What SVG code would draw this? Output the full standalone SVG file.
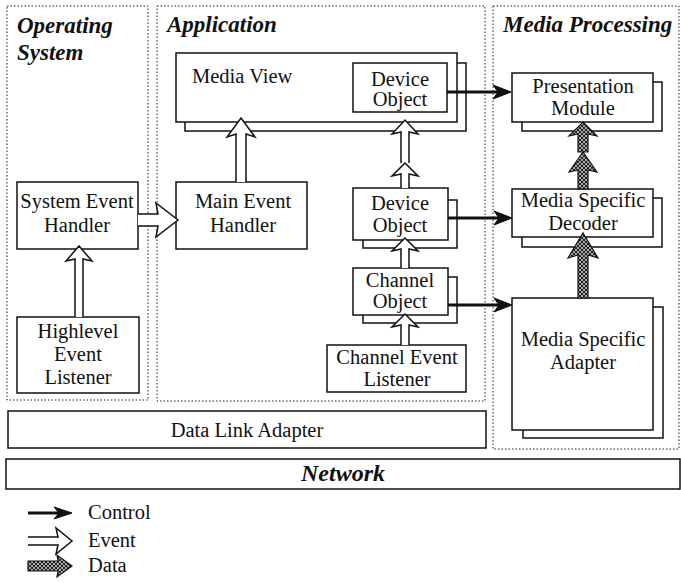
<svg xmlns="http://www.w3.org/2000/svg" width="681" height="583" viewBox="0 0 681 583" font-family="Liberation Serif, DejaVu Serif, serif">
<style>
.panel{fill:none;stroke:#222;stroke-width:1;stroke-dasharray:1.5 2}
.box{fill:#fff;stroke:#111;stroke-width:1.5}
.t{font-size:20.5px;fill:#111;text-anchor:middle}
.tl{font-size:20.5px;fill:#111}
.h{font-size:23px;font-weight:bold;font-style:italic;fill:#111}
.ctl{stroke:#111;stroke-width:3;fill:none}
.head{fill:#111;stroke:#111;stroke-width:1}
.ev{fill:#fff;stroke:#111;stroke-width:1.5;stroke-linejoin:miter}
.data{fill:url(#hatch);stroke:#111;stroke-width:1.2}
</style>
<defs>
<pattern id="hatch" width="4" height="4" patternUnits="userSpaceOnUse">
<rect width="4" height="4" fill="#aaa"/>
<path d="M0,0 L4,4 M4,0 L0,4" stroke="#222" stroke-width="1"/>
</pattern>
</defs>
<rect width="681" height="583" fill="#fff"/>

<g id="panels">
<g id="panel-os"><rect class="panel" x="7" y="6" width="141" height="394"/>
<text class="h" x="17" y="33" font-family="Liberation Serif">Operating</text><text class="h" x="17" y="60" font-family="Liberation Serif">System</text></g>
<g id="panel-app"><rect class="panel" x="157" y="6" width="328" height="395"/>
<text class="h" x="167" y="32" font-family="Liberation Serif">Application</text></g>
<g id="panel-media"><rect class="panel" x="493" y="6" width="186" height="443"/>
<text class="h" x="503" y="32" font-family="Liberation Serif">Media Processing</text></g>
</g>

<g id="nodes" font-family="Liberation Serif, DejaVu Serif, serif">
<g id="media-view"><rect class="box" x="185" y="63" width="281" height="68"/><rect class="box" x="176" y="53" width="281" height="69"/>
<text class="tl" x="192" y="83">Media View</text></g>
<g id="device-object-view"><rect class="box" x="353" y="63" width="94" height="49"/>
<text class="t" x="400" y="86">Device</text><text class="t" x="400" y="106">Object</text></g>
<g id="presentation-module"><rect class="box" x="522" y="82" width="140" height="49"/><rect class="box" x="512" y="73" width="141" height="49"/>
<text class="t" x="583" y="93">Presentation</text><text class="t" x="583" y="115">Module</text></g>
<g id="media-specific-decoder"><rect class="box" x="522" y="198" width="140" height="49"/><rect class="box" x="512" y="189" width="141" height="48"/>
<text class="t" x="583" y="207">Media Specific</text><text class="t" x="583" y="230">Decoder</text></g>
<g id="media-specific-adapter"><rect class="box" x="523" y="307" width="140" height="131"/><rect class="box" x="512" y="298" width="141" height="132"/>
<text class="t" x="583" y="346">Media Specific</text><text class="t" x="583" y="369">Adapter</text></g>
<g id="device-object"><rect class="box" x="363" y="200" width="94" height="48"/><rect class="box" x="353" y="188" width="95" height="52"/>
<text class="t" x="400" y="210">Device</text><text class="t" x="400" y="232">Object</text></g>
<g id="channel-object"><rect class="box" x="363" y="277" width="94" height="46"/><rect class="box" x="353" y="268" width="95" height="47"/>
<text class="t" x="400" y="287">Channel</text><text class="t" x="400" y="308">Object</text></g>
<g id="channel-event-listener"><rect class="box" x="327" y="345" width="139" height="47"/>
<text class="t" x="397" y="364">Channel Event</text><text class="t" x="397" y="386">Listener</text></g>
<g id="main-event-handler"><rect class="box" x="176" y="182" width="131" height="67"/>
<text class="t" x="243" y="208">Main Event</text><text class="t" x="243" y="232">Handler</text></g>
<g id="system-event-handler"><rect class="box" x="17" y="182" width="121" height="67"/>
<text class="t" x="77" y="208">System Event</text><text class="t" x="77" y="232">Handler</text></g>
<g id="highlevel-event-listener"><rect class="box" x="17" y="317" width="122" height="76"/>
<text class="t" x="78" y="338">Highlevel</text><text class="t" x="78" y="361">Event</text><text class="t" x="78" y="384">Listener</text></g>
<g id="data-link-adapter"><rect class="box" x="8" y="411" width="478" height="37"/>
<text class="t" x="247" y="437">Data Link Adapter</text></g>
<g id="network"><rect class="box" x="6" y="459" width="674" height="30"/>
<text class="h" x="343" y="481" text-anchor="middle" style="font-size:24px">Network</text></g>
</g>

<g id="connectors">
<line class="ctl" x1="447" y1="92" x2="498" y2="92"/><path class="head" d="M511,92 L493,85 L498,92 L493,99 Z"/>
<line class="ctl" x1="448" y1="218" x2="499" y2="218"/><path class="head" d="M512,218 L494,211 L499,218 L494,225 Z"/>
<line class="ctl" x1="448" y1="305" x2="499" y2="305"/><path class="head" d="M512,305 L494,298 L499,305 L494,312 Z"/>
<path class="ev" d="M75,317 L75,259 L66,261 L79,246 L92,261 L83,259 L83,317"/>
<path class="ev" d="M138,214 L158,214 L156,203 L178,220 L156,237 L158,226 L138,226"/>
<path class="ev" d="M236,182 L236,134 L227,137 L241,118 L255,137 L246,134 L246,182"/>
<path class="ev" d="M401,163 L401,132 L392,134 L405,120 L418,134 L409,132 L409,163"/>
<path class="ev" d="M401,188 L401,174 L392,176 L405,163 L418,176 L409,174 L409,188"/>
<path class="ev" d="M401,268 L401,249 L392,251 L405,238 L418,251 L409,249 L409,268"/>
<path class="ev" d="M401,345 L401,325 L392,327 L405,314 L418,327 L409,325 L409,345"/>
<path class="data" d="M578,152 L578,134 L569,136 L583,122 L597,136 L588,134 L588,152 Z"/>
<path class="data" d="M578,189 L578,170 L569,172 L583,152 L597,172 L588,170 L588,189 Z"/>
<path class="data" d="M578,298 L578,255 L568,258 L583,233 L598,258 L588,255 L588,298 Z"/>
</g>

<g id="legend" font-family="Liberation Serif, serif">
<line class="ctl" x1="28" y1="513" x2="60" y2="513"/><path class="head" d="M72,513 L54,507 L59,513 L54,519 Z"/>
<text class="tl" x="88" y="519">Control</text>
<path class="ev" d="M28,537 L58,537 L56,528 L72,541 L56,554 L58,545 L28,545"/>
<text class="tl" x="88" y="547">Event</text>
<path class="data" d="M28,561 L58,561 L57,555 L72,566 L57,577 L58,571 L28,571 Z"/>
<text class="tl" x="88" y="572">Data</text>
</g>
</svg>
